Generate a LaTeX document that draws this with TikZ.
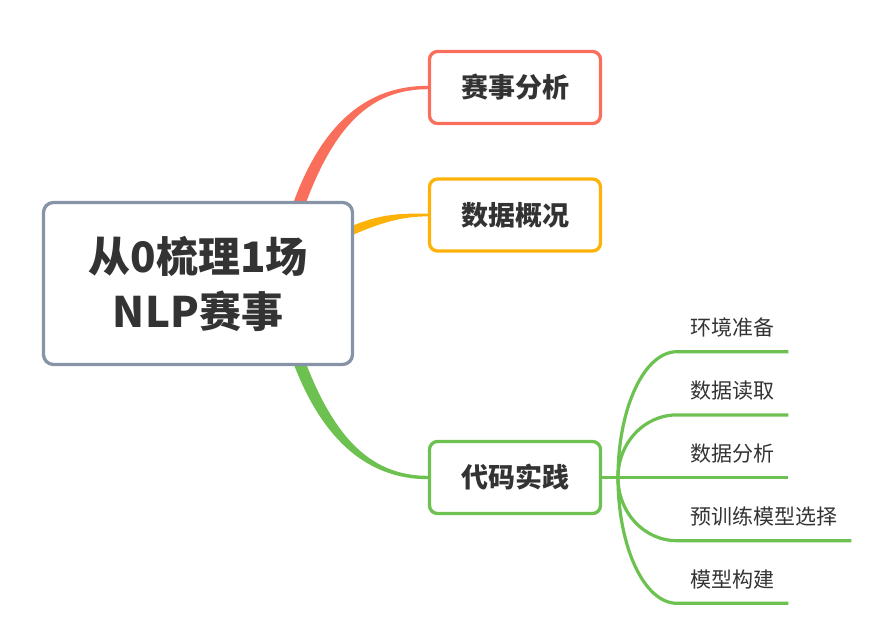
\documentclass[tikz,border=0pt]{standalone}
\usepackage{fontspec}
\setmainfont{Noto Sans CJK SC}
\usetikzlibrary{positioning,calc,backgrounds}

\definecolor{mmred}{RGB}{250,110,92}
\definecolor{mmyellow}{RGB}{253,178,10}
\definecolor{mmgreen}{RGB}{108,193,80}
\definecolor{mmgray}{RGB}{135,148,168}
\definecolor{mmtext}{RGB}{51,51,51}

\begin{document}
\begin{tikzpicture}[
  x=1pt, y=-1pt,
  font=\fontsize{21}{25}\selectfont,
  box/.style={draw, fill=white, rounded corners=8pt, line width=3.3pt,
              align=center, text=mmtext},
  rootbox/.style={box, draw=mmgray, rounded corners=10pt, minimum width=309pt,
                  minimum height=162pt, font=\fontsize{42}{55}\selectfont\bfseries},
  topic/.style={box, minimum width=171pt, minimum height=72pt,
                font=\fontsize{27}{32}\selectfont\bfseries},
  leaf/.style={anchor=south west, inner xsep=13pt, inner ysep=16pt, text depth=0pt,
               text=mmtext, text width=85pt},
  twig/.style={mmgreen, line width=3.2pt},
]
  \useasboundingbox (0,0) rectangle (873,622);

  % central topic
  \node[rootbox] (root) at (198,283.5) {从0梳理1场\\NLP赛事};

  % main branches
  \node[topic, draw=mmred] (match) at (515,87.5) {赛事分析};
  \node[topic, draw=mmyellow] (data) at (515,215) {数据概况};
  \node[topic, draw=mmgreen] (code) at (515,477.5) {代码实践};

  % sub topics of the code branch
  \coordinate (fork) at (618,477.5);
  \node[leaf] (env) at (677,351.7) {环境准备};
  \node[leaf] (read) at (677,414.9) {数据读取};
  \node[leaf] (eda) at (677,477.5) {数据分析};
  \node[leaf, text width=148pt] (pre) at (677,540.7) {预训练模型选择};
  \node[leaf] (build) at (677,603.3) {模型构建};

  \begin{scope}[on background layer]
    % tapered branches, start hidden under the root box
    \coordinate (rs) at (290,232);
    \coordinate (ys) at (330,241);
    \coordinate (gs) at (290,335);
    \fill[mmred] ($(rs)+(-6,0)$) .. controls +(31,-110) and +(-60,0) .. ($(match.west)+(0,-1.7)$)
      -- ($(match.west)+(0,1.7)$) .. controls +(-58,0) and +(33,-106) .. ($(rs)+(6,0)$) -- cycle;
    \fill[mmyellow] ($(ys)+(0,-4.5)$) .. controls +(45,-24) and +(-30,0) .. ($(data.west)+(0,-1.4)$)
      -- ($(data.west)+(0,1.4)$) .. controls +(-28,0) and +(45,-22) .. ($(ys)+(0,4.5)$) -- cycle;
    \fill[mmgreen] ($(gs)+(-6,0)$) .. controls +(31,105) and +(-60,0) .. ($(code.west)+(0,1.7)$)
      -- ($(code.west)+(0,-1.7)$) .. controls +(-58,0) and +(33,102) .. ($(gs)+(6,0)$) -- cycle;

    % twigs of the code branch
    \draw[twig] (code.east) -- (fork);
    \draw[twig] (fork) .. controls +(0,-69) and +(-33,0) .. (env.south west) -- (env.south east);
    \draw[twig] (fork) .. controls +(0,-34.5) and +(-33,0) .. (read.south west) -- (read.south east);
    \draw[twig] (fork) -- (eda.south west) -- (eda.south east);
    \draw[twig] (fork) .. controls +(0,35) and +(-33,0) .. (pre.south west) -- (pre.south east);
    \draw[twig] (fork) .. controls +(0,69) and +(-33,0) .. (build.south west) -- (build.south east);
  \end{scope}
\end{tikzpicture}
\end{document}
